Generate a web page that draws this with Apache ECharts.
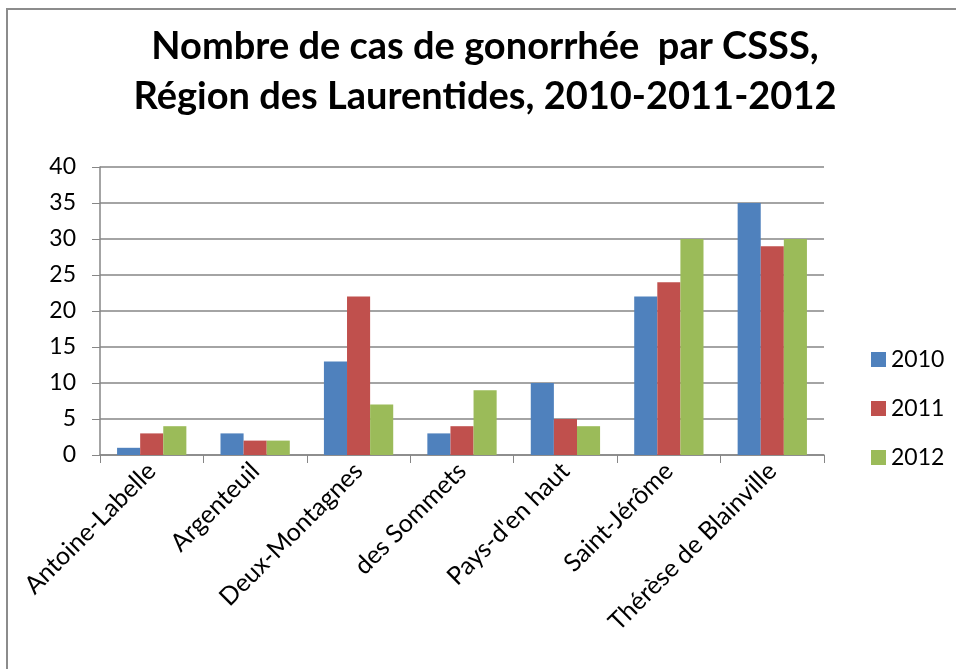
<!DOCTYPE html>
<html>
<head>
<meta charset="utf-8">
<script src="https://cdn.jsdelivr.net/npm/echarts@6/dist/echarts.min.js"></script>
<style>
  html, body { margin: 0; padding: 0; background: #fff; }
  #frame { position: absolute; left: 6px; top: 8px; width: 960px; height: 670px; border: 2px solid #8c8c8c; box-sizing: border-box; }
  #chart { position: absolute; left: 0; top: 0; width: 956px; height: 669px; }
</style>
</head>
<body>
<div id="frame"></div>
<div id="chart"></div>
<script>
  var categories = ['Antoine-Labelle', 'Argenteuil', 'Deux-Montagnes', 'des Sommets', "Pays-d'en haut", 'Saint-Jérôme', 'Thérèse de Blainville']
  var years = ['2010', '2011', '2012']
  var values2010 = [1, 3, 13, 3, 10, 22, 35]
  var values2011 = [3, 2, 22, 4, 5, 24, 29]
  var values2012 = [4, 2, 7, 9, 4, 30, 30]
  var colors = ['#4F81BD', '#C0504D', '#9BBB59']

  var font = 'Lato, "Open Sans", sans-serif'
  var chart = echarts.init(document.getElementById('chart'))

  var series = [values2010, values2011, values2012].map(function (vals, i) {
    return {
      name: years[i],
      type: 'bar',
      data: vals,
      barGap: '0%',
      barCategoryGap: '33%',
      itemStyle: { color: colors[i] }
    }
  })

  chart.setOption({
    animation: false,
    color: colors,
    title: {
      text: 'Nombre de cas de gonorrhée  par CSSS,\nRégion des Laurentides, 2010-2011-2012',
      left: 480,
      textAlign: 'center',
      top: 17,
      textStyle: { fontFamily: font, fontSize: 38, fontWeight: 'bold', color: '#000', lineHeight: 50 }
    },
    legend: {
      orient: 'vertical',
      left: 866,
      top: 343,
      icon: 'rect',
      itemWidth: 15,
      itemHeight: 15,
      itemGap: 26,
      textStyle: { fontFamily: font, fontSize: 23, color: '#000' },
      data: years
    },
    grid: { left: 100, right: 132, top: 167, bottom: 214 },
    xAxis: {
      type: 'category',
      data: categories,
      axisLine: { lineStyle: { color: '#868686', width: 1.5 } },
      axisTick: { show: true, length: 8, lineStyle: { color: '#868686' } },
      axisLabel: { rotate: 45, interval: 0, fontFamily: font, fontSize: 25, color: '#000', margin: 12 }
    },
    yAxis: {
      type: 'value',
      min: 0,
      max: 40,
      interval: 5,
      axisLine: { show: true, lineStyle: { color: '#868686', width: 1.5 } },
      axisTick: { show: true, length: 8, lineStyle: { color: '#868686' } },
      splitLine: { lineStyle: { color: '#868686', width: 1.5 } },
      axisLabel: { fontFamily: font, fontSize: 23, color: '#000', margin: 24 }
    },
    series: series
  })
</script>
</body>
</html>
